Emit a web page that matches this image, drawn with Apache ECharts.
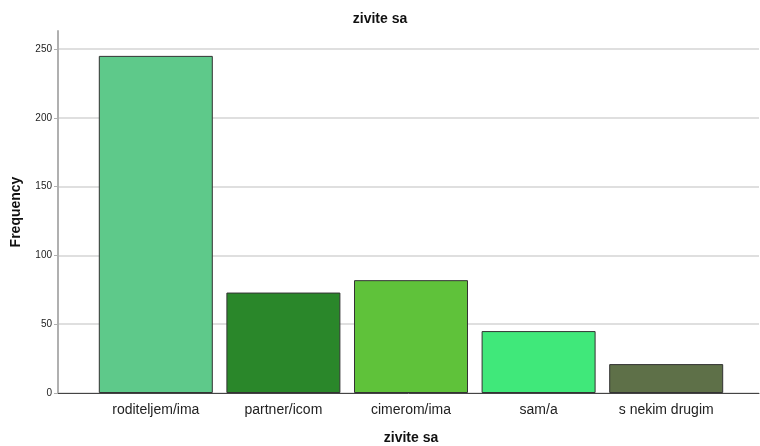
<!DOCTYPE html>
<html>
<head>
<meta charset="utf-8">
<script src="https://cdn.jsdelivr.net/npm/echarts@6/dist/echarts.min.js"></script>
<style>
  html, body { margin: 0; padding: 0; background: #fff; }
  #chart { width: 760px; height: 446px; }
</style>
</head>
<body>
<div id="chart"></div>
<script>
// zivite sa - frequencies
const categories = ['roditeljem/ima', 'partner/icom', 'cimerom/ima', 'sam/a', 's nekim drugim'];
const frequencies = [245, 73, 82, 45, 21];
const barColors = ['#5ec98a', '#2a872a', '#5fc23a', '#40e87a', '#5e7048'];
const yTicks = [0, 50, 100, 150, 200, 250];

const font = 'Liberation Sans, Arial, sans-serif';
const chart = echarts.init(document.getElementById('chart'));

chart.setOption({
    animation: false,
    title: {
        text: 'zivite sa',
        left: 'center',
        top: 7,
        textStyle: { fontFamily: font, fontSize: 14, fontWeight: 'bold', color: '#111' }
    },
    grid: [
        // frame: y axis line + baseline
        { left: 58, right: 1, top: 31, bottom: 53, outerBoundsMode: 'none' },
        // ticks + gridlines
        { left: 58, right: 1, top: 49, bottom: 53, outerBoundsMode: 'none' },
        // bars
        { left: 92, right: 30, top: 49, bottom: 53, outerBoundsMode: 'none' }
    ],
    xAxis: [
        {
            gridIndex: 0, type: 'value', min: 0, max: 1,
            axisLine: { show: true, lineStyle: { color: '#444', width: 1 } },
            axisTick: { show: false }, axisLabel: { show: false }, splitLine: { show: false }
        },
        {
            gridIndex: 1, type: 'value', min: 0, max: 1, show: false
        },
        {
            gridIndex: 2, type: 'category', data: categories,
            axisLine: { show: false }, axisTick: { show: false },
            axisLabel: { margin: 10, fontFamily: font, fontSize: 14, color: '#222' },
            name: 'zivite sa', nameLocation: 'middle', nameGap: 38,
            nameTextStyle: { fontFamily: font, fontSize: 14, fontWeight: 'bold', color: '#111' }
        }
    ],
    yAxis: [
        {
            gridIndex: 0, type: 'value', min: 0, max: 1,
            axisLine: { show: true, lineStyle: { color: '#b0b0b0', width: 2 } },
            axisTick: { show: false }, axisLabel: { show: false }, splitLine: { show: false },
            name: 'Frequency', nameLocation: 'middle', nameGap: 35, nameRotate: 90,
            nameTextStyle: { fontFamily: font, fontSize: 14, fontWeight: 'bold', color: '#111' }
        },
        {
            gridIndex: 1, type: 'value',
            min: yTicks[0], max: yTicks[yTicks.length - 1], interval: 50,
            axisLine: { show: false },
            axisTick: { show: true, length: 4, lineStyle: { color: '#b0b0b0' } },
            axisLabel: { margin: 6, fontFamily: font, fontSize: 10, color: '#222' },
            splitLine: { show: true, lineStyle: { color: '#d4d4d4', width: 1.5 } }
        },
        {
            gridIndex: 2, type: 'value',
            min: yTicks[0], max: yTicks[yTicks.length - 1], show: false
        }
    ],
    series: [{
        type: 'bar',
        xAxisIndex: 2,
        yAxisIndex: 2,
        barWidth: 114,
        data: frequencies.map((v, i) => ({
            value: v,
            itemStyle: { color: barColors[i], borderColor: '#333', borderWidth: 1 }
        }))
    }]
});
</script>
</body>
</html>
